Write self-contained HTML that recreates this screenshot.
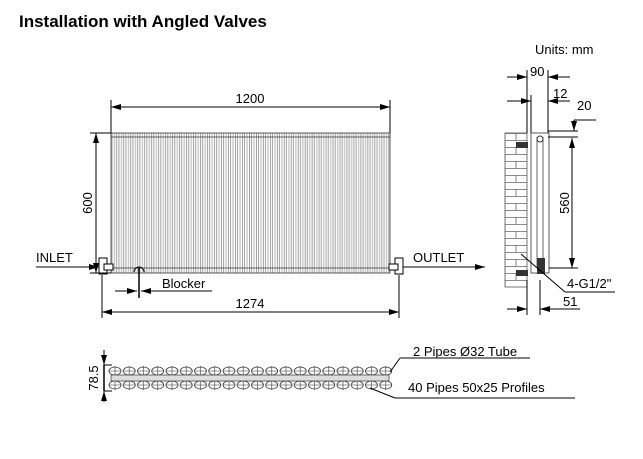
<!DOCTYPE html>
<html><head><meta charset="utf-8"><style>
body{margin:0;background:#fff;width:643px;height:454px;overflow:hidden}
svg{font-family:"Liberation Sans",sans-serif}
</style></head><body>
<svg width="643" height="454" viewBox="0 0 643 454" xmlns="http://www.w3.org/2000/svg">
<defs>
<pattern id="tubes" x="111" y="0" width="6.975" height="10" patternUnits="userSpaceOnUse">
<rect x="2.8" y="0" width="1.4" height="10" fill="#c8c8c8"/>
<path d="M1 0V10M5.8 0V10" stroke="#666" stroke-width="0.6"/>
</pattern>
<pattern id="bricks" x="505" y="133" width="22" height="14" patternUnits="userSpaceOnUse">
<rect width="22" height="14" fill="#fff"/>
<path d="M0 0.5H22M0 7.5H22M11 0V7M0 7V14" stroke="#666" stroke-width="0.8" fill="none"/>
</pattern>
<pattern id="circ" x="108" y="365" width="14.25" height="26" patternUnits="userSpaceOnUse">
<ellipse cx="7" cy="6" rx="6" ry="4" fill="none" stroke="#333" stroke-width="0.8"/>
<ellipse cx="7" cy="20" rx="6" ry="4" fill="none" stroke="#333" stroke-width="0.8"/>
<path d="M7 1V11M7 15V25M1 6H13M1 20H13" stroke="#333" stroke-width="0.6"/>
</pattern>
<marker id="a" viewBox="0 0 10 6" refX="10" refY="3" markerWidth="10" markerHeight="6" orient="auto-start-reverse" markerUnits="userSpaceOnUse"><path d="M0 0L10 3L0 6Z" fill="#000"/></marker>
</defs>
<text x="19" y="27" font-weight="bold" font-size="17">Installation with Angled Valves</text>
<text x="535" y="54" font-size="13">Units: mm</text>

<rect x="111" y="133" width="279" height="140" fill="url(#tubes)"/>
<rect x="111" y="133" width="279" height="140" fill="none" stroke="#333" stroke-width="0.8"/>
<line x1="111" y1="137" x2="390" y2="137" stroke="#333" stroke-width="0.8"/>
<line x1="111" y1="268" x2="390" y2="268" stroke="#333" stroke-width="0.8"/>
<rect x="99" y="258" width="8" height="16" fill="#fff" stroke="#000"/>
<rect x="104" y="264" width="9" height="6" fill="#fff" stroke="#000"/>
<rect x="395" y="258" width="8" height="16" fill="#fff" stroke="#000"/>
<rect x="389" y="264" width="9" height="6" fill="#fff" stroke="#000"/>
<path d="M134 272 A5 5 0 0 1 144 272" fill="none" stroke="#000"/>
<g stroke="#000" stroke-width="1" fill="none">
<line x1="111" y1="100" x2="111" y2="133"/><line x1="390" y1="100" x2="390" y2="133"/>
<line x1="111" y1="107" x2="390" y2="107" marker-start="url(#a)" marker-end="url(#a)"/>
<line x1="90" y1="133" x2="111" y2="133"/><line x1="90" y1="273" x2="111" y2="273"/>
<line x1="96" y1="133" x2="96" y2="273" marker-start="url(#a)" marker-end="url(#a)"/>
<line x1="36" y1="267" x2="99" y2="267" marker-end="url(#a)"/>
<line x1="403" y1="267" x2="485" y2="267" marker-end="url(#a)"/>
<line x1="102" y1="275" x2="102" y2="318"/><line x1="399" y1="275" x2="399" y2="318"/>
<line x1="102" y1="312" x2="399" y2="312" marker-start="url(#a)" marker-end="url(#a)"/>
<line x1="139" y1="268" x2="139" y2="298" stroke-width="1.5"/>
<line x1="115" y1="291" x2="137" y2="291" marker-end="url(#a)"/>
<line x1="212" y1="291" x2="141" y2="291" marker-end="url(#a)"/>
</g>
<text x="250" y="103" font-size="13" text-anchor="middle">1200</text>
<text transform="translate(92,203) rotate(-90)" font-size="13" text-anchor="middle">600</text>
<text x="36" y="262" font-size="13">INLET</text>
<text x="413" y="262" font-size="13">OUTLET</text>
<text x="162" y="288" font-size="13">Blocker</text>
<text x="250" y="308" font-size="13" text-anchor="middle">1274</text>

<rect x="505" y="133" width="22" height="154" fill="url(#bricks)" stroke="#555" stroke-width="0.8"/>
<rect x="531" y="133" width="18" height="140" fill="#fff" stroke="#333" stroke-width="0.8"/>
<line x1="537" y1="137" x2="537" y2="268" stroke="#666"/>
<line x1="543" y1="137" x2="543" y2="268" stroke="#666"/>
<rect x="516" y="142" width="12" height="6" fill="#333"/>
<rect x="516" y="270" width="12" height="6" fill="#333"/>
<rect x="537" y="258" width="8" height="16" fill="#333"/>
<circle cx="540" cy="139" r="3" fill="none" stroke="#333"/>
<g stroke="#000" stroke-width="1" fill="none">
<line x1="527" y1="70" x2="527" y2="133"/><line x1="548" y1="70" x2="548" y2="133"/>
<line x1="507" y1="77" x2="527" y2="77" marker-end="url(#a)"/><line x1="570" y1="77" x2="548" y2="77" marker-end="url(#a)"/>
<line x1="531" y1="95" x2="531" y2="133"/>
<line x1="507" y1="101" x2="531" y2="101" marker-end="url(#a)"/><line x1="570" y1="101" x2="548" y2="101" marker-end="url(#a)"/>
<line x1="548" y1="131" x2="578" y2="131"/><line x1="548" y1="137" x2="578" y2="137"/>
<line x1="574" y1="120" x2="574" y2="131" marker-end="url(#a)"/>
<line x1="574" y1="120" x2="596" y2="120"/>
<line x1="549" y1="268" x2="578" y2="268"/>
<line x1="572" y1="138" x2="572" y2="268" marker-start="url(#a)" marker-end="url(#a)"/>
<line x1="521" y1="254" x2="565" y2="292"/><line x1="565" y1="292" x2="615" y2="292"/>
<line x1="527" y1="280" x2="527" y2="315"/><line x1="540" y1="280" x2="540" y2="315"/>
<line x1="507" y1="309" x2="527" y2="309" marker-end="url(#a)"/><line x1="580" y1="309" x2="540" y2="309" marker-end="url(#a)"/>
</g>
<text x="530" y="76" font-size="13">90</text>
<text x="553" y="98" font-size="13">12</text>
<text x="577" y="110" font-size="13">20</text>
<text transform="translate(569,203) rotate(-90)" font-size="13" text-anchor="middle">560</text>
<text x="567" y="288" font-size="13">4-G1/2"</text>
<text x="563" y="306" font-size="13">51</text>

<rect x="108" y="365" width="285" height="26" fill="url(#circ)"/>
<rect x="111" y="375" width="278" height="6" fill="#ddd" stroke="#333" stroke-width="0.7"/>
<g stroke="#000" stroke-width="1" fill="none">
<line x1="104" y1="365" x2="112" y2="365"/><line x1="104" y1="391" x2="112" y2="391"/>
<line x1="104" y1="365" x2="104" y2="391" stroke-width="1.5"/>
<line x1="104" y1="350" x2="104" y2="365" marker-end="url(#a)"/>
<line x1="104" y1="402" x2="104" y2="391" marker-end="url(#a)"/>
<line x1="390" y1="372" x2="400" y2="358"/><line x1="400" y1="358" x2="530" y2="358"/>
<line x1="370" y1="388" x2="395" y2="398"/><line x1="395" y1="398" x2="575" y2="398"/>
</g>
<text transform="translate(98,378) rotate(-90)" font-size="13" text-anchor="middle">78.5</text>
<text x="413" y="356" font-size="13">2 Pipes Ø32  Tube</text>
<text x="408" y="392" font-size="13">40 Pipes 50x25  Profiles</text>
</svg>
</body></html>
